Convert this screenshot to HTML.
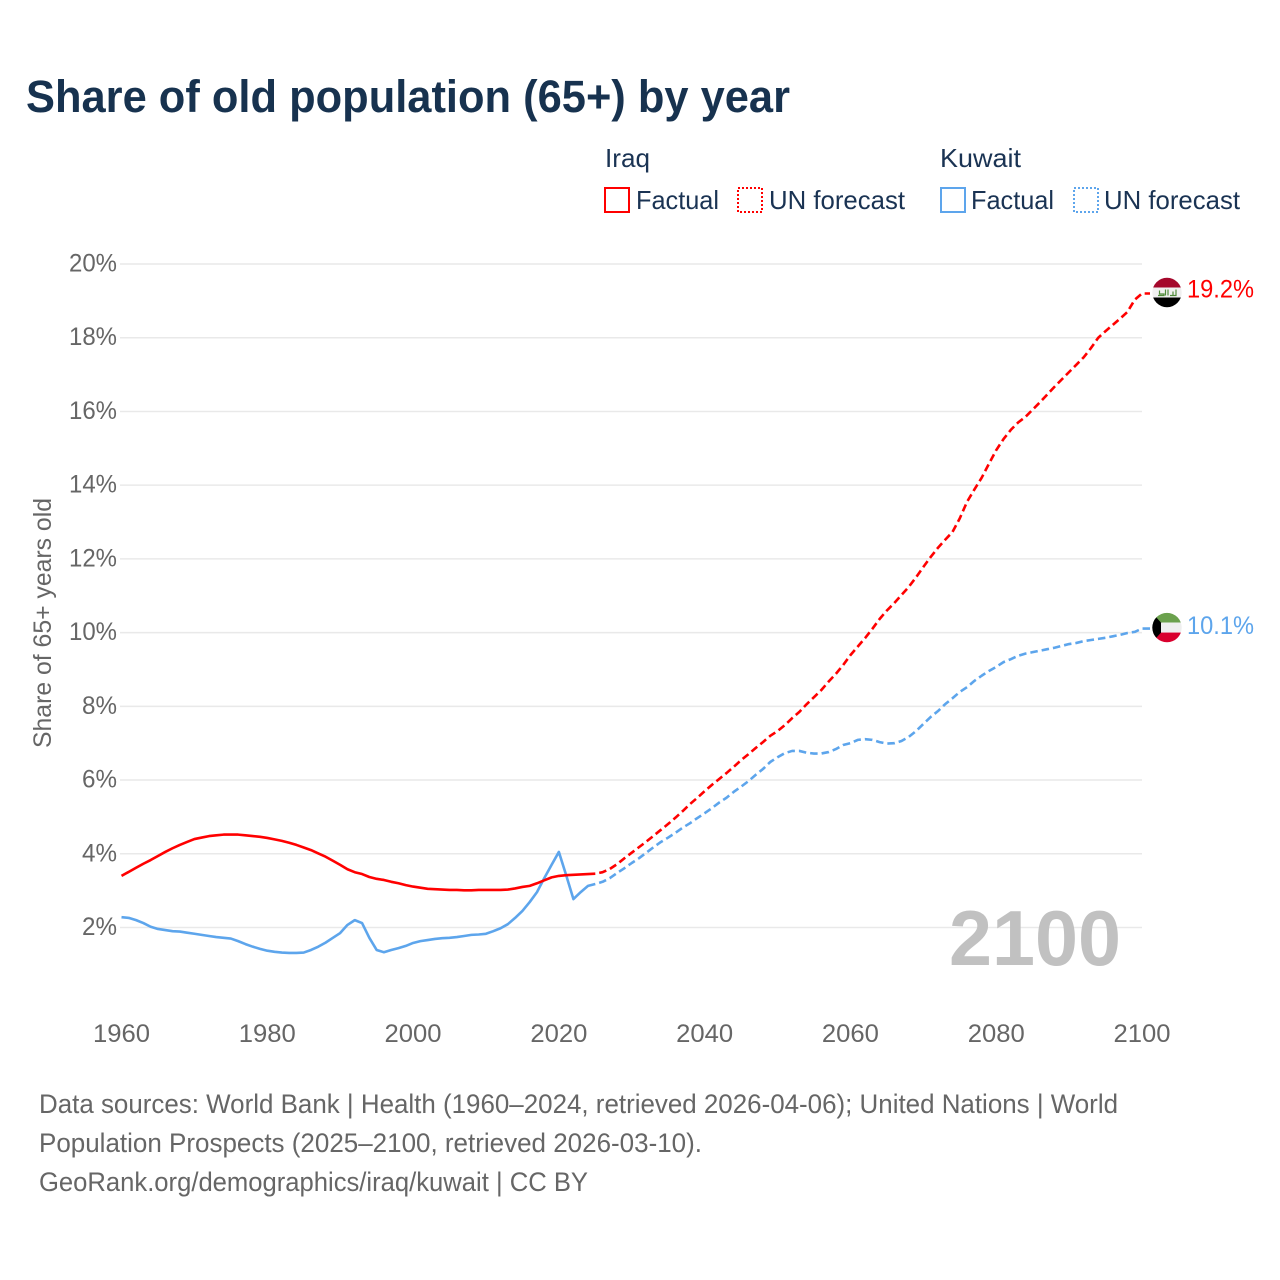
<!DOCTYPE html>
<html lang="en">
<head>
<meta charset="utf-8">
<title>Share of old population (65+) by year</title>
<style>
html,body{margin:0;padding:0;background:#fff;}
svg{display:block;font-family:"Liberation Sans",sans-serif;}
</style>
</head>
<body>
<svg id="chart" xmlns="http://www.w3.org/2000/svg" width="1280" height="1280" viewBox="0 0 1280 1280">
  <rect width="1280" height="1280" fill="#fff"/>
  <text x="26" y="112" font-size="45" font-weight="700" fill="#17324f" textLength="764" lengthAdjust="spacingAndGlyphs">Share of old population (65+) by year</text>

  <g font-size="26" fill="#1a3353">
    <text x="605" y="167" textLength="45" lengthAdjust="spacingAndGlyphs">Iraq</text>
    <g>
      <rect x="605" y="188" width="24" height="24" fill="none" stroke="#ff0000" stroke-width="2"/>
      <text x="636" y="209" textLength="83" lengthAdjust="spacingAndGlyphs">Factual</text>
    </g>
    <g>
      <rect x="738" y="188" width="24" height="24" fill="none" stroke="#ff0000" stroke-width="2" stroke-dasharray="2 2"/>
      <text x="769" y="209" textLength="136" lengthAdjust="spacingAndGlyphs">UN forecast</text>
    </g>
    <text x="940" y="167" textLength="81" lengthAdjust="spacingAndGlyphs">Kuwait</text>
    <g>
      <rect x="941" y="188" width="24" height="24" fill="none" stroke="#5da5ec" stroke-width="2"/>
      <text x="971" y="209" textLength="83" lengthAdjust="spacingAndGlyphs">Factual</text>
    </g>
    <g>
      <rect x="1074" y="188" width="24" height="24" fill="none" stroke="#5da5ec" stroke-width="2" stroke-dasharray="2 2"/>
      <text x="1104" y="209" textLength="136" lengthAdjust="spacingAndGlyphs">UN forecast</text>
    </g>
  </g>

  <g id="grid"></g>
  <g id="yticks"></g>
  <g id="xticks"></g>
  <text transform="translate(51,623) rotate(-90)" text-anchor="middle" font-size="25" fill="#666" textLength="250" lengthAdjust="spacingAndGlyphs">Share of 65+ years old</text>
  <text x="949" y="965" font-size="78" font-weight="700" fill="#c1c1c1" textLength="172" lengthAdjust="spacingAndGlyphs">2100</text>
  <g id="series"></g>

  <g id="flag-iraq">
    <clipPath id="clip-iraq"><circle cx="0" cy="0" r="14.7"/></clipPath>
    <g clip-path="url(#clip-iraq)">
      <rect x="-15" y="-15" width="30" height="10" fill="#a5082c"/>
      <rect x="-15" y="-5" width="30" height="10" fill="#f0f0f0"/>
      <rect x="-15" y="5" width="30" height="10" fill="#000"/>
      <path d="M-9 3H-3V1.500H-7.500V-2M-1.500 3V-3M1 3V-3M3 3H9V-3M6 3V-1" fill="none" stroke="#4f8a3a" stroke-width="1.200"/>
    </g>
  </g>
  <g id="flag-kuwait">
    <clipPath id="clip-kuwait"><circle cx="0" cy="0" r="14.7"/></clipPath>
    <g clip-path="url(#clip-kuwait)">
      <rect x="-15" y="-15" width="30" height="10" fill="#6ba14d"/>
      <rect x="-15" y="-5" width="30" height="10" fill="#efefef"/>
      <rect x="-15" y="5" width="30" height="10" fill="#d9002e"/>
      <polygon points="-15,-15 -6,-5 -6,5 -15,15" fill="#000"/>
    </g>
  </g>
  <g id="end-labels"></g>

  <g font-size="27" fill="#666">
    <text x="39" y="1113" textLength="1079" lengthAdjust="spacingAndGlyphs">Data sources: World Bank | Health (1960–2024, retrieved 2026-04-06); United Nations | World</text>
    <text x="39" y="1152" textLength="663" lengthAdjust="spacingAndGlyphs">Population Prospects (2025–2100, retrieved 2026-03-10).</text>
    <text x="39" y="1191" textLength="549" lengthAdjust="spacingAndGlyphs">GeoRank.org/demographics/iraq/kuwait | CC BY</text>
  </g>
</svg>
<script>
const yTicks = [2, 4, 6, 8, 10, 12, 14, 16, 18, 20];
const xTicks = [1960, 1980, 2000, 2020, 2040, 2060, 2080, 2100];
const factualStartYear = 1960;
const forecastStartYear = 2025;

const iraqFactual = [
  3.40, 3.51, 3.62, 3.73, 3.83, 3.94, 4.05, 4.15, 4.24, 4.32,
  4.40, 4.44, 4.48, 4.50, 4.52, 4.52, 4.52, 4.50, 4.48, 4.46,
  4.43, 4.39, 4.35, 4.30, 4.24, 4.17, 4.10, 4.01, 3.92, 3.81,
  3.70, 3.58, 3.50, 3.45, 3.37, 3.32, 3.29, 3.24, 3.20, 3.15,
  3.11, 3.08, 3.05, 3.04, 3.03, 3.02, 3.02, 3.01, 3.01, 3.02,
  3.02, 3.02, 3.02, 3.03, 3.06, 3.10, 3.13, 3.20, 3.28, 3.36,
  3.40, 3.42, 3.43, 3.44, 3.45, 3.46
];
const kuwaitFactual = [
  2.28, 2.26, 2.20, 2.12, 2.02, 1.96, 1.93, 1.90, 1.89, 1.86,
  1.83, 1.80, 1.77, 1.74, 1.72, 1.70, 1.63, 1.55, 1.48, 1.42,
  1.37, 1.34, 1.32, 1.31, 1.31, 1.32, 1.39, 1.48, 1.59, 1.72,
  1.85, 2.07, 2.20, 2.12, 1.72, 1.39, 1.33, 1.39, 1.44, 1.50,
  1.58, 1.63, 1.66, 1.69, 1.71, 1.72, 1.74, 1.77, 1.80, 1.81,
  1.83, 1.90, 1.98, 2.09, 2.26, 2.45, 2.69, 2.96, 3.34, 3.70,
  4.05, 3.42, 2.77, 2.96, 3.13, 3.18
];
const iraqForecast = [
  3.46, 3.50, 3.59, 3.72, 3.88,
  4.03, 4.18, 4.33, 4.49, 4.65, 4.81, 4.98, 5.16, 5.35, 5.52,
  5.70, 5.87, 6.03, 6.19, 6.36, 6.54, 6.70, 6.87, 7.03, 7.20,
  7.33, 7.49, 7.68, 7.85, 8.06, 8.25, 8.44, 8.67, 8.88, 9.12,
  9.39, 9.62, 9.85, 10.10, 10.37, 10.60, 10.80, 11.02, 11.24, 11.50,
  11.78, 12.05, 12.30, 12.52, 12.73, 13.10, 13.55, 13.88, 14.20, 14.58,
  14.95, 15.25, 15.50, 15.70, 15.85, 16.05, 16.25, 16.46, 16.67, 16.87,
  17.07, 17.27, 17.47, 17.72, 18.00, 18.18, 18.35, 18.52, 18.70, 19.03,
  19.20
];
const kuwaitForecast = [
  3.18, 3.24, 3.34, 3.48, 3.61,
  3.75, 3.88, 4.03, 4.18, 4.32, 4.44, 4.57, 4.71, 4.83, 4.97,
  5.10, 5.24, 5.39, 5.52, 5.68, 5.82, 5.97, 6.14, 6.30, 6.49,
  6.62, 6.73, 6.79, 6.79, 6.74, 6.72, 6.72, 6.76, 6.84, 6.95,
  7.00, 7.09, 7.11, 7.09, 7.03, 6.99, 7.00, 7.06, 7.17, 7.33,
  7.52, 7.71, 7.87, 8.06, 8.22, 8.39, 8.52, 8.69, 8.83, 8.96,
  9.07, 9.20, 9.28, 9.37, 9.43, 9.47, 9.51, 9.55, 9.59, 9.64,
  9.69, 9.72, 9.77, 9.80, 9.83, 9.86, 9.90, 9.94, 9.99, 10.02,
  10.11
];
const endLabels = ['19.2%', '10.1%'];

const SVGNS = 'http://www.w3.org/2000/svg';
const RED = '#ff0000';
const BLUE = '#5da5ec';

function xScale(year) {
  return 121.5 + (year - 1960) * (1142 - 121.5) / 140;
}
function yScale(v) {
  return 927.5 - (v - 2) * 36.86;
}
function make(tag, parentId, attrs) {
  const el = document.createElementNS(SVGNS, tag);
  for (const k in attrs) el.setAttribute(k, attrs[k]);
  document.getElementById(parentId).appendChild(el);
  return el;
}

yTicks.forEach(function (t) {
  const line = make('line', 'grid', {x1: 120, x2: 1142, y1: yScale(t), y2: yScale(t), stroke: '#e9e9e9', 'stroke-width': 1.5});
  
  
  const label = make('text', 'yticks', {x: 69, y: yScale(t) + 7.5, 'font-size': 25, fill: '#666', textLength: 48, lengthAdjust: 'spacingAndGlyphs'});
  label.textContent = t + '%';
  
  
  if (t < 10) {
    label.setAttribute('x', 82);
    label.setAttribute('textLength', 35);
  }
});

xTicks.forEach(function (t) {
  const label = make('text', 'xticks', {x: xScale(t) - 28.5, y: 1042, 'font-size': 25, fill: '#666', textLength: 57, lengthAdjust: 'spacingAndGlyphs'});
  label.textContent = t;
  
  
});

function drawLine(values, startYear, color, dashed, name, extend) {
  const pts = values.map(function (v, i) {
    return xScale(startYear + i).toFixed(2) + ',' + yScale(v).toFixed(2);
  });
  if (extend) {
    const lastY = yScale(values[values.length - 1]);
    pts.push((xScale(startYear + values.length - 1) + 8).toFixed(2) + ',' + lastY.toFixed(2));
  }
  const line = make('polyline', 'series', {points: pts.join(' '), fill: 'none', stroke: color, 'stroke-width': 2.6, 'stroke-linejoin': 'round'});
  if (dashed) {
    line.setAttribute('stroke-dasharray', '7.5 4');
    line.setAttribute('stroke-dashoffset', '7.5');
  }
  
  
}
drawLine(kuwaitFactual, factualStartYear, BLUE, false, 'line-kuwait-factual', false);
drawLine(iraqFactual, factualStartYear, RED, false, 'line-iraq-factual', false);
drawLine(kuwaitForecast, forecastStartYear, BLUE, true, 'line-kuwait-forecast', true);
drawLine(iraqForecast, forecastStartYear, RED, true, 'line-iraq-forecast', true);

const iraqEndY = yScale(iraqForecast[iraqForecast.length - 1]);
const kuwaitEndY = yScale(kuwaitForecast[kuwaitForecast.length - 1]);
document.getElementById('flag-iraq').setAttribute('transform', 'translate(1167,' + (iraqEndY - 1) + ')');
document.getElementById('flag-kuwait').setAttribute('transform', 'translate(1167,' + (kuwaitEndY - 1) + ')');

const iraqLabel = make('text', 'end-labels', {x: 1187, y: iraqEndY + 4, 'font-size': 25, fill: RED, textLength: 67, lengthAdjust: 'spacingAndGlyphs'});
iraqLabel.textContent = endLabels[0];


const kuwaitLabel = make('text', 'end-labels', {x: 1187, y: kuwaitEndY + 5.5, 'font-size': 25, fill: BLUE, textLength: 67, lengthAdjust: 'spacingAndGlyphs'});
kuwaitLabel.textContent = endLabels[1];


</script>
</body>
</html>
